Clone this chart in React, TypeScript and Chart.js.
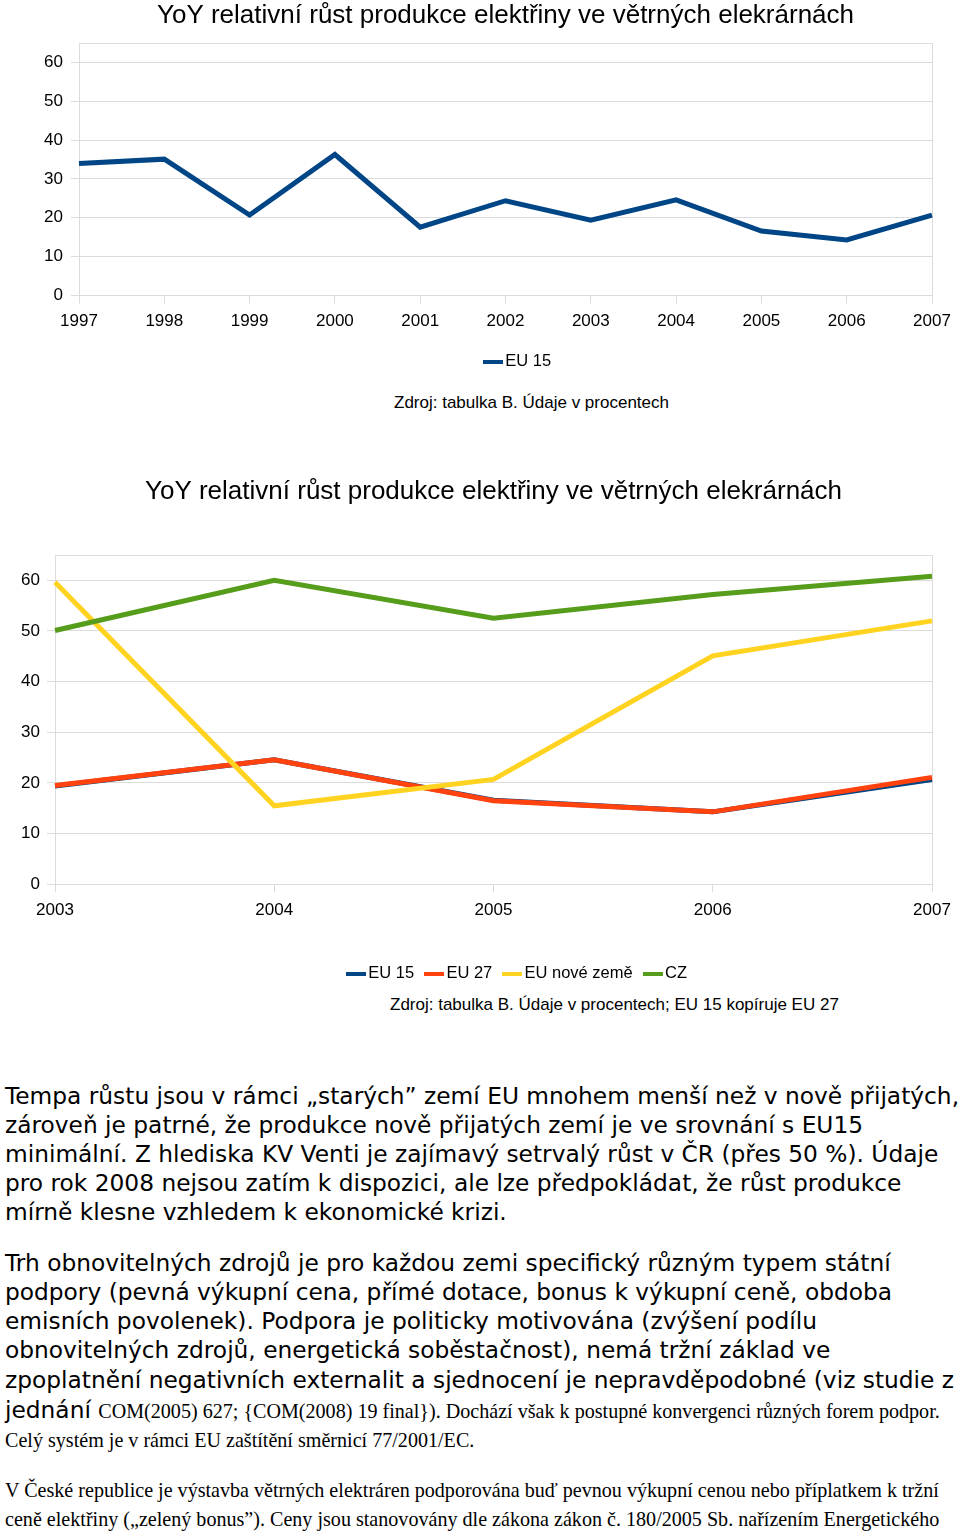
import React, { useEffect, useRef } from "react";
import { Chart, registerables } from "chart.js";

Chart.register(...registerables);

// ---------- data ----------
const TITLE = "YoY relativní růst produkce elektřiny ve větrných elekrárnách";
const YEARS_1 = ["1997", "1998", "1999", "2000", "2001", "2002", "2003", "2004", "2005", "2006", "2007"];
const EU15_LONG = [34.0, 35.1, 20.7, 36.3, 17.6, 24.4, 19.4, 24.6, 16.6, 14.3, 20.7];

const YEARS_2 = ["2003", "2004", "2005", "2006", "2007"];
const EU15 = [19.4, 24.6, 16.6, 14.3, 20.7];
const EU27 = [19.5, 24.6, 16.5, 14.3, 21.1];
const EU_NEW = [59.6, 15.5, 20.7, 45.1, 52.0];
const CZ = [50.1, 60.0, 52.5, 57.2, 60.8];

const Y_TICKS = [0, 10, 20, 30, 40, 50, 60];
const Y_MAX = 65;

const COLORS = {
  eu15: "#004586",
  eu27: "#ff420e",
  euNew: "#ffd320",
  cz: "#579d1c",
};

const GRID = "#dcdcdc";
const SANS = "'Liberation Sans', Arial, sans-serif";

const swatchCache: Record<string, HTMLCanvasElement> = {};
function swatch(color: string): HTMLCanvasElement {
  if (swatchCache[color]) return swatchCache[color];
  const c = document.createElement("canvas");
  c.width = 20;
  c.height = 4;
  const ctx = c.getContext("2d");
  if (ctx) {
    ctx.fillStyle = color;
    ctx.fillRect(0, 0, 20, 4);
  }
  swatchCache[color] = c;
  return c;
}

const shiftLegend = {
  id: "shiftLegend",
  afterLayout(chart: any, _args: any, opts: any) {
    const l = chart.legend;
    if (l && opts && opts.dx) {
      l.left += opts.dx;
      l.right += opts.dx;
    }
  },
};

function makeOptions(cfg: {
  yWidth: number;
  yPad: number;
  xHeight: number;
  titlePad: { top: number; bottom: number };
  legendDx: number;
  legendPad: number;
  nLabels: number;
}) {
  return {
    responsive: false,
    animation: false as const,
    devicePixelRatio: 1,
    layout: { padding: { left: 0, right: 28, top: 0, bottom: 0 } },
    elements: {
      line: { tension: 0, borderWidth: 5, borderCapStyle: "butt", borderJoinStyle: "miter" },
      point: { radius: 0, hoverRadius: 0 },
    },
    plugins: {
      title: {
        display: true,
        text: TITLE,
        fullSize: false,
        color: "#000",
        font: { family: SANS, size: 26, weight: "normal", lineHeight: 1.1 },
        padding: cfg.titlePad,
      },
      legend: {
        display: true,
        position: "bottom",
        fullSize: false,
        labels: {
          usePointStyle: true,
          pointStyleWidth: 8,
          boxWidth: 8,
          boxHeight: 4,
          padding: cfg.legendPad,
          color: "#000",
          font: { family: SANS, size: 16.5 },
          sort: (a: any, b: any) => a.datasetIndex - b.datasetIndex,
          generateLabels: (chart: any) =>
            Chart.defaults.plugins.legend.labels.generateLabels(chart).map((it: any) => ({
              ...it,
              pointStyle: swatch(it.strokeStyle),
              fillStyle: it.strokeStyle,
              lineWidth: 0,
            })),
        },
      },
      tooltip: { enabled: false },
      shiftLegend: { dx: cfg.legendDx },
    },
    scales: {
      x: {
        type: "category",
        offset: false,
        afterFit: (s: any) => {
          s.height = cfg.xHeight;
        },
        border: { display: true, color: GRID, width: 1 },
        grid: {
          drawOnChartArea: true,
          color: (c: any) => (c.index === cfg.nLabels - 1 ? GRID : "rgba(0,0,0,0)"),
          tickColor: GRID,
          tickLength: 8,
        },
        ticks: {
          autoSkip: false,
          maxRotation: 0,
          minRotation: 0,
          padding: 7.5,
          color: "#000",
          font: { family: SANS, size: 17 },
        },
      },
      y: {
        type: "linear",
        min: 0,
        max: Y_MAX,
        afterFit: (s: any) => {
          s.width = cfg.yWidth;
        },
        afterBuildTicks: (s: any) => {
          s.ticks = [...Y_TICKS, Y_MAX].map((v) => ({ value: v }));
        },
        border: { display: true, color: GRID, width: 1 },
        grid: {
          color: GRID,
          tickColor: (c: any) => (c.tick && c.tick.value === Y_MAX ? "rgba(0,0,0,0)" : GRID),
          tickLength: 8,
        },
        ticks: {
          padding: cfg.yPad,
          color: "#000",
          font: { family: SANS, size: 17 },
          callback: (v: any) => (v === Y_MAX ? "" : String(v)),
        },
      },
    },
  };
}

function ChartOne() {
  const ref = useRef<HTMLCanvasElement>(null);
  useEffect(() => {
    if (!ref.current) return;
    const chart = new Chart(ref.current, {
      type: "line",
      data: {
        labels: YEARS_1,
        datasets: [
          {
            label: "EU 15",
            data: EU15_LONG,
            borderColor: COLORS.eu15,
            backgroundColor: COLORS.eu15,
            fill: false,
          },
        ],
      },
      options: makeOptions({
        yWidth: 79,
        yPad: 8,
        xHeight: 48,
        titlePad: { top: 2, bottom: 12.4 },
        legendDx: 14.5,
        legendPad: 10,
        nLabels: YEARS_1.length,
      }) as any,
      plugins: [shiftLegend],
    });
    return () => chart.destroy();
  }, []);
  return (
    <canvas
      ref={ref}
      width={960}
      height={380}
      style={{ position: "absolute", left: 0, top: 0, width: 960, height: 380, display: "block" }}
    />
  );
}

function ChartTwo() {
  const ref = useRef<HTMLCanvasElement>(null);
  useEffect(() => {
    if (!ref.current) return;
    const chart = new Chart(ref.current, {
      type: "line",
      data: {
        labels: YEARS_2,
        datasets: [
          { label: "EU 15", data: EU15, borderColor: COLORS.eu15, backgroundColor: COLORS.eu15, fill: false, order: 3 },
          { label: "EU 27", data: EU27, borderColor: COLORS.eu27, backgroundColor: COLORS.eu27, fill: false, order: 2 },
          { label: "EU nové země", data: EU_NEW, borderColor: COLORS.euNew, backgroundColor: COLORS.euNew, fill: false, order: 1 },
          { label: "CZ", data: CZ, borderColor: COLORS.cz, backgroundColor: COLORS.cz, fill: false, order: 0 },
        ],
      },
      options: makeOptions({
        yWidth: 55,
        yPad: 7,
        xHeight: 65.2,
        titlePad: { top: 7.7, bottom: 48.7 },
        legendDx: 26,
        legendPad: 16,
        nLabels: YEARS_2.length,
      }) as any,
      plugins: [shiftLegend],
    });
    return () => chart.destroy();
  }, []);
  return (
    <canvas
      ref={ref}
      width={960}
      height={522}
      style={{ position: "absolute", left: 0, top: 470, width: 960, height: 522, display: "block" }}
    />
  );
}

const DEJAVU = "'DejaVu Sans', sans-serif";
const SERIF = "'Liberation Serif', 'Times New Roman', serif";
const SANS_SIZE = 23.3;
const SERIF_SIZE = 20.1;

function Line(props: { y: number; children: React.ReactNode; font?: string; size?: number; lh?: number }) {
  const lh = props.lh ?? 29;
  return (
    <div
      style={{
        position: "absolute",
        left: 5,
        top: props.y - lh / 2,
        height: lh,
        lineHeight: `${lh}px`,
        whiteSpace: "pre",
        fontFamily: props.font ?? DEJAVU,
        fontSize: props.size ?? SANS_SIZE,
        color: "#000",
      }}
    >
      {props.children}
    </div>
  );
}

function Caption(props: { x: number; y: number; text: string }) {
  return (
    <div
      style={{
        position: "absolute",
        left: props.x,
        top: props.y - 10,
        height: 20,
        lineHeight: "20px",
        whiteSpace: "pre",
        fontFamily: SANS,
        fontSize: 17,
        color: "#000",
      }}
    >
      {props.text}
    </div>
  );
}

export default function App() {
  const serifSpan = (t: string) => (
    <span style={{ fontFamily: SERIF, fontSize: SERIF_SIZE }}>{t}</span>
  );
  return (
    <div
      style={{
        position: "absolute",
        left: 0,
        top: 0,
        width: 960,
        height: 1534,
        overflow: "hidden",
        background: "#fff",
      }}
    >
      <ChartOne />
      <Caption x={394} y={403} text="Zdroj: tabulka B. Údaje v procentech" />
      <ChartTwo />
      <Caption x={390} y={1005} text="Zdroj: tabulka B. Údaje v procentech; EU 15 kopíruje EU 27" />

      <Line y={1095}>Tempa růstu jsou v rámci „starých” zemí EU mnohem menší než v nově přijatých,</Line>
      <Line y={1124}>zároveň je patrné, že produkce nově přijatých zemí je ve srovnání s EU15</Line>
      <Line y={1153}>minimální. Z hlediska KV Venti je zajímavý setrvalý růst v ČR (přes 50 %). Údaje</Line>
      <Line y={1182}>pro rok 2008 nejsou zatím k dispozici, ale lze předpokládat, že růst produkce</Line>
      <Line y={1211}>mírně klesne vzhledem k ekonomické krizi.</Line>

      <Line y={1262}>Trh obnovitelných zdrojů je pro každou zemi specifický různým typem státní</Line>
      <Line y={1291}>podpory (pevná výkupní cena, přímé dotace, bonus k výkupní ceně, obdoba</Line>
      <Line y={1320}>emisních povolenek). Podpora je politicky motivována (zvýšení podílu</Line>
      <Line y={1349}>obnovitelných zdrojů, energetická soběstačnost), nemá tržní základ ve</Line>
      <Line y={1379}>zpoplatnění negativních externalit a sjednocení je nepravděpodobné (viz studie z</Line>
      <Line y={1409}>
        jednání {serifSpan("COM(2005) 627; {COM(2008) 19 final}). Dochází však k postupné konvergenci různých forem podpor.")}
      </Line>
      <Line y={1440} font={SERIF} size={SERIF_SIZE}>
        Celý systém je v rámci EU zaštítění směrnicí 77/2001/EC.
      </Line>

      <Line y={1490} font={SERIF} size={SERIF_SIZE}>
        V České republice je výstavba větrných elektráren podporována buď pevnou výkupní cenou nebo příplatkem k tržní
      </Line>
      <Line y={1519} font={SERIF} size={SERIF_SIZE}>
        ceně elektřiny („zelený bonus”). Ceny jsou stanovovány dle zákona zákon č. 180/2005 Sb. nařízením Energetického
      </Line>
    </div>
  );
}
